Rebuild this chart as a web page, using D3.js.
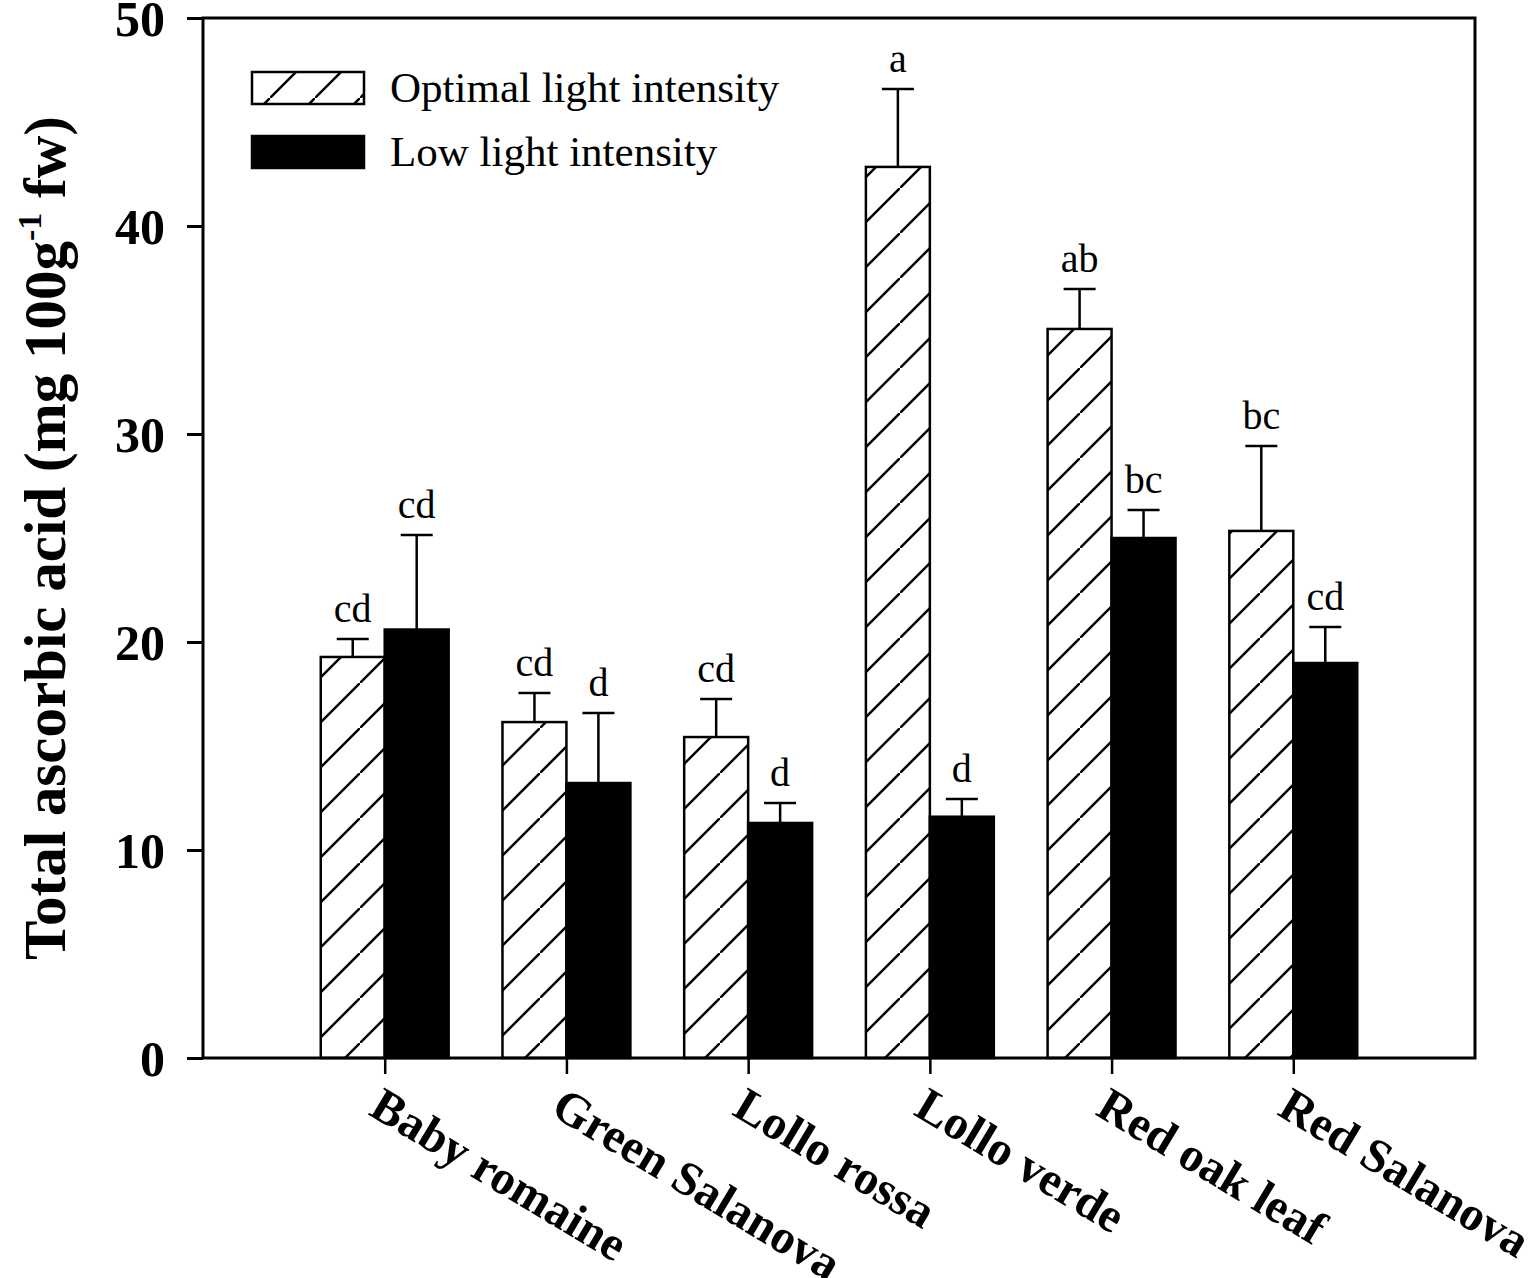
<!DOCTYPE html>
<html>
<head>
<meta charset="utf-8">
<script src="https://cdn.jsdelivr.net/npm/d3@7"></script>
<style>
  body { margin: 0; background: #fff; }
  svg { display: block; }
</style>
</head>
<body>
<svg id="chart"></svg>
<script>
// data
var cultivars = ["Baby romaine", "Green Salanova", "Lollo rossa", "Lollo verde", "Red oak leaf", "Red Salanova"];
var optimal    = [19.28, 16.15, 15.43, 42.84, 35.05, 25.34];
var optimalErr = [0.86, 1.40, 1.83, 3.75, 1.92, 4.08];
var low        = [20.6, 13.22, 11.3, 11.6, 25.0, 18.99];
var lowErr     = [4.55, 3.37, 0.96, 0.85, 1.35, 1.73];
var optimalLetters = ["cd", "cd", "cd", "a", "ab", "bc"];
var lowLetters     = ["cd", "d", "d", "d", "bc", "cd"];
var yTicks = [0, 10, 20, 30, 40, 50];

var width = 1535,
    height = 1278,
    plotLeft = 203, plotRight = 1475, plotTop = 18, plotBottom = 1058;

var serif = "'Times New Roman', 'Liberation Serif', serif";

var svg = d3.select("#chart")
    .attr("width", width)
    .attr("height", height);

var x = d3.scaleLinear().domain([0, cultivars.length + 1]).range([plotLeft, plotRight]);
var y = d3.scaleLinear().domain([0, 50]).range([plotBottom, plotTop]);
var barW = 0.352;
var barPx = x(barW) - x(0);

// hatch pattern
var defs = svg.append("defs");
defs.append("pattern")
    .attr("id", "hatch")
    .attr("patternUnits", "userSpaceOnUse")
    .attr("width", 45)
    .attr("height", 45)
    .attr("x", 0)
    .attr("y", 8)
  .append("path")
    .attr("d", "M-5,50 L50,-5")
    .style("stroke", "#000")
    .style("stroke-width", 2.5);

// frame
svg.append("rect")
    .attr("x", plotLeft)
    .attr("y", plotTop)
    .attr("width", plotRight - plotLeft)
    .attr("height", plotBottom - plotTop)
    .style("fill", "none")
    .style("stroke", "#000")
    .style("stroke-width", 3);

// bars: optimal (hatched, left) and low (black, right)
var g = svg.append("g");
g.selectAll(".opt")
    .data(optimal)
  .enter().append("rect")
    .attr("class", "opt")
    .attr("x", function(d, i) { return x(i + 1) - barPx; })
    .attr("y", function(d) { return y(d); })
    .attr("width", barPx)
    .attr("height", function(d) { return y(0) - y(d); })
    .style("fill", "url(#hatch)")
    .style("stroke", "#000")
    .style("stroke-width", 2.5);

g.selectAll(".low")
    .data(low)
  .enter().append("rect")
    .attr("class", "low")
    .attr("x", function(d, i) { return x(i + 1); })
    .attr("y", function(d) { return y(d); })
    .attr("width", barPx)
    .attr("height", function(d) { return y(0) - y(d); })
    .style("fill", "#000")
    .style("stroke", "#000")
    .style("stroke-width", 2.5);

// error bars + letters
function errBars(vals, errs, letters, offset) {
  vals.forEach(function(v, i) {
    var cx = x(i + 1 + offset * barW / 2);
    var ty = y(v + errs[i]);
    g.append("line")
        .attr("x1", cx).attr("x2", cx)
        .attr("y1", y(v)).attr("y2", ty)
        .style("stroke", "#000").style("stroke-width", 2.5);
    g.append("line")
        .attr("x1", cx - 16).attr("x2", cx + 16)
        .attr("y1", ty).attr("y2", ty)
        .style("stroke", "#000").style("stroke-width", 2.5);
    g.append("text")
        .attr("x", cx)
        .attr("y", ty - 17)
        .attr("text-anchor", "middle")
        .style("font-family", serif)
        .style("font-size", "40px")
        .text(letters[i]);
  });
}
errBars(optimal, optimalErr, optimalLetters, -1);
errBars(low, lowErr, lowLetters, 1);

// y axis
var yAxis = svg.append("g")
    .attr("transform", "translate(" + plotLeft + ",0)")
    .call(d3.axisLeft(y).tickValues(yTicks).tickSize(16).tickPadding(22).tickFormat(d3.format("d")));
yAxis.select(".domain").remove();
yAxis.selectAll("line").style("stroke-width", 3);
yAxis.selectAll("text")
    .style("font-family", serif)
    .style("font-size", "50px")
    .style("font-weight", "bold")
    .attr("dy", "0.34em");

// x axis
var xAxis = svg.append("g")
    .attr("transform", "translate(0," + plotBottom + ")")
    .call(d3.axisBottom(x).tickValues(d3.range(1, cultivars.length + 1)).tickSize(16)
      .tickFormat(function(d) { return cultivars[d - 1]; }));
xAxis.select(".domain").remove();
xAxis.selectAll("line").style("stroke-width", 2.5);
xAxis.selectAll("text")
    .attr("x", 0)
    .attr("y", 0)
    .attr("dy", 0)
    .attr("text-anchor", "start")
    .attr("transform", "translate(-18,56) rotate(31)")
    .style("font-family", serif)
    .style("font-size", "48px")
    .style("font-weight", "bold");

// y title
var yt = svg.append("text")
    .attr("transform", "translate(65," + (plotTop + plotBottom) / 2 + ") rotate(-90)")
    .attr("text-anchor", "middle")
    .style("font-family", serif)
    .style("font-size", "59px")
    .style("font-weight", "bold");
yt.append("tspan").text("Total ascorbic acid (mg 100g");
yt.append("tspan").attr("dy", -24).style("font-size", "34px").text("-1");
yt.append("tspan").attr("dy", 24).text(" fw)");

// legend
var legend = svg.append("g");
var legendItems = [
  { label: "Optimal light intensity", fill: "url(#hatch)" },
  { label: "Low light intensity", fill: "#000" }
];
legendItems.forEach(function(d, i) {
  legend.append("rect")
      .attr("x", 252)
      .attr("y", 72 + i * 64)
      .attr("width", 112)
      .attr("height", 32)
      .style("fill", d.fill)
      .style("stroke", "#000")
      .style("stroke-width", 2.5);
  legend.append("text")
      .attr("x", 390)
      .attr("y", 102 + i * 64)
      .style("font-family", serif)
      .style("font-size", "43px")
      .text(d.label);
});
</script>
</body>
</html>
